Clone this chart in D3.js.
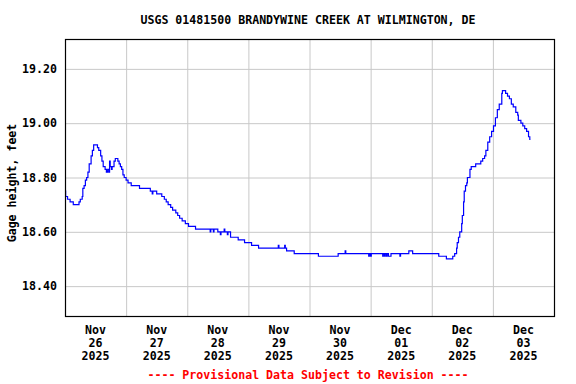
<!DOCTYPE html>
<html>
<head>
<meta charset="utf-8">
<script src="https://cdn.jsdelivr.net/npm/d3@7"></script>
<style>
    body { margin: 0; background: #fff; }
    text { font-family: "DejaVu Sans Mono", "Liberation Mono", monospace; font-weight: bold; font-size: 11.6px; }
    .grid line { stroke: #c8c8c8; stroke-width: 1; }
    .grid path { display: none; }
</style>
</head>
<body>
<div id="chart"></div>
<script>
// hours since 2025-11-26 00:00 and gage height (ft), step values
const hours = [0, 0.25, 1, 2, 3.25, 5.5, 6, 6.75, 7, 7.5, 8, 8.5, 9, 9.5, 10.25, 10.75, 11.25,
    12.75, 13.25, 14, 14.5, 15, 15.75, 16.25, 16.75, 17.25, 17.5, 17.75, 18.25, 18.5, 19.25, 19.75,
    20.75, 21.25, 21.75, 22.25, 22.75, 23.25, 24, 24.75, 26, 29.25, 33.5, 34.25, 34.5, 36, 38, 39,
    39.75, 40.5, 41.5, 42.25, 43.5, 44.25, 45, 46, 47.25, 48.5, 51.25, 57, 57.25, 58.25, 58.5, 60,
    61, 61.25, 62.5, 62.75, 63.75, 64, 65, 68, 70.5, 73.25, 76, 83.75, 84, 86.25, 86.5, 87, 90,
    99.5, 107.25, 110, 110.25, 119.25, 119.5, 120, 120.25, 124.75, 125, 125.5, 125.75, 126.25, 126.5,
    127, 128, 131.5, 131.75, 135, 136.5, 146.75, 149.75, 152.25, 153, 153.75, 154, 154.5, 155,
    155.75, 156, 156.5, 156.75, 157.25, 157.75, 158, 159, 159.5, 161.25, 163.25, 164, 164.75, 165.25,
    166, 166.75, 167.5, 168.25, 169, 169.75, 170.5, 171.5, 171.75, 173, 173.75, 174.5, 175.25, 176,
    177, 177.75, 178, 179, 179.75, 180.5, 181.25, 182, 182.5, 182.75];
const feet = [18.75, 18.73, 18.72, 18.71, 18.70, 18.71, 18.72, 18.73, 18.76, 18.77, 18.79, 18.80, 18.82, 18.85, 18.88, 18.90, 18.92,
    18.91, 18.90, 18.88, 18.86, 18.84, 18.83, 18.82, 18.83, 18.82, 18.86, 18.84, 18.83, 18.84, 18.86, 18.87,
    18.86, 18.85, 18.84, 18.83, 18.81, 18.80, 18.79, 18.78, 18.77, 18.76, 18.75, 18.74, 18.75, 18.74, 18.73, 18.72,
    18.71, 18.70, 18.69, 18.68, 18.67, 18.66, 18.65, 18.64, 18.63, 18.62, 18.61, 18.60, 18.61, 18.60, 18.61, 18.60,
    18.59, 18.60, 18.61, 18.60, 18.59, 18.60, 18.58, 18.57, 18.56, 18.55, 18.54, 18.55, 18.54, 18.55, 18.54, 18.53, 18.52,
    18.51, 18.52, 18.53, 18.52, 18.51, 18.52, 18.51, 18.52, 18.51, 18.52, 18.51, 18.52, 18.51, 18.52,
    18.51, 18.52, 18.51, 18.52, 18.53, 18.52, 18.51, 18.50, 18.51, 18.52, 18.54, 18.56, 18.58, 18.60,
    18.63, 18.66, 18.71, 18.75, 18.77, 18.78, 18.80, 18.83, 18.84, 18.85, 18.86, 18.87, 18.88, 18.90,
    18.93, 18.95, 18.97, 18.99, 19.02, 19.05, 19.07, 19.11, 19.12, 19.11, 19.10, 19.09, 19.07, 19.06,
    19.04, 19.03, 19.01, 19.00, 18.99, 18.98, 18.97, 18.95, 18.94, 18.94];

const yTicks = [18.40, 18.60, 18.80, 19.00, 19.20];
const dayLabels = [["Nov", "26", "2025"], ["Nov", "27", "2025"], ["Nov", "28", "2025"], ["Nov", "29", "2025"],
    ["Nov", "30", "2025"], ["Dec", "01", "2025"], ["Dec", "02", "2025"], ["Dec", "03", "2025"]];

const title = "USGS 01481500 BRANDYWINE CREEK AT WILMINGTON, DE";
const yLabel = "Gage height, feet";
const note = "---- Provisional Data Subject to Revision ----";

var margin = { top: 39, right: 22, bottom: 68, left: 65 },
    width = 576 - margin.left - margin.right,
    height = 384 - margin.top - margin.bottom;

var svg = d3.select("#chart")
    .append("svg")
    .attr("width", 576)
    .attr("height", 384);

var g = svg.append("g")
    .attr("transform", "translate(" + margin.left + "," + margin.top + ")");

var x = d3.scaleLinear().domain([0, 192]).range([0, width]);
var y = d3.scaleLinear().domain([18.29, 19.31]).range([height, 0]);

// gridlines
g.append("g")
    .attr("class", "grid")
    .attr("transform", "translate(0," + height + ")")
    .call(d3.axisBottom(x).tickValues(d3.range(24, 192, 24)).tickSize(-height).tickFormat(""));

g.append("g")
    .attr("class", "grid")
    .call(d3.axisLeft(y).tickValues(yTicks).tickSize(-width).tickFormat(""));

// data line
var data = hours.map((h, i) => ({ h: h, v: feet[i] }));
var line = d3.line()
    .x(d => x(d.h))
    .y(d => y(d.v))
    .curve(d3.curveStepAfter);

g.append("path")
    .datum(data)
    .attr("fill", "none")
    .attr("stroke", "#0000ff")
    .attr("stroke-width", 1.2)
    .attr("d", line);

// frame
g.append("rect")
    .attr("x", 0.5).attr("y", 0.5)
    .attr("width", width).attr("height", height)
    .attr("fill", "none")
    .attr("stroke", "#000")
    .attr("stroke-width", 1.2);

// y tick labels
g.selectAll(".ylab")
    .data(yTicks)
    .enter().append("text")
    .attr("x", -8)
    .attr("y", d => y(d))
    .attr("dy", "0.35em")
    .attr("text-anchor", "end")
    .text(d => d.toFixed(2));

// x labels, centred at noon of each day
var xl = g.selectAll(".xlab")
    .data(dayLabels)
    .enter().append("text")
    .attr("text-anchor", "middle")
    .attr("transform", (d, i) => "translate(" + x(i * 24 + 12) + "," + (height + 18) + ")");

xl.selectAll("tspan")
    .data(d => d)
    .enter().append("tspan")
    .attr("x", 0)
    .attr("dy", (d, i) => i == 0 ? 0 : 13)
    .text(d => d);

// title, axis label, note
svg.append("text")
    .attr("x", 308)
    .attr("y", 24)
    .attr("text-anchor", "middle")
    .text(title);

svg.append("text")
    .attr("text-anchor", "middle")
    .attr("transform", "translate(16," + 183 + ") rotate(-90)")
    .text(yLabel);

svg.append("text")
    .attr("x", 308)
    .attr("y", 379)
    .attr("text-anchor", "middle")
    .attr("fill", "#ff0000")
    .text(note);
</script>
</body>
</html>
